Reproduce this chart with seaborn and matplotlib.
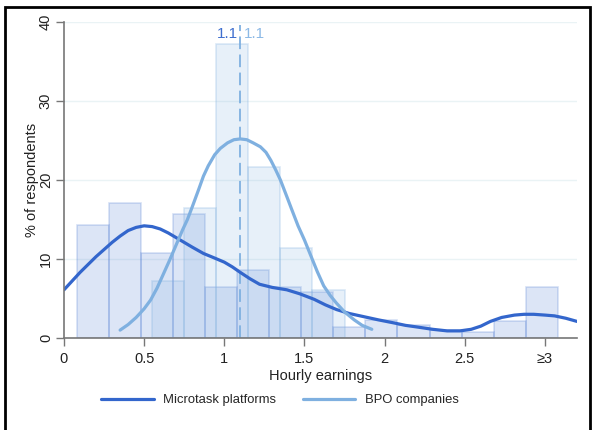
import numpy as np
import pandas as pd
import matplotlib
matplotlib.use("Agg")
import matplotlib.pyplot as plt
import matplotlib.patches as mpatches
import seaborn as sns

# ---------------- data ----------------
micro_bin_left = [0.08, 0.28, 0.48, 0.68, 0.88, 1.08, 1.28, 1.48, 1.68, 1.88,
                  2.08, 2.28, 2.48, 2.68, 2.88]
micro_pct = [14.3, 17.1, 10.7, 15.7, 6.4, 8.6, 6.4, 5.8, 1.4, 2.3,
             1.6, 1.0, 0.8, 2.2, 6.4]
bpo_bin_left = [0.55, 0.75, 0.95, 1.15, 1.35, 1.55]
bpo_pct = [7.2, 16.5, 37.2, 21.7, 11.4, 6.1]
bin_width = 0.2

micro_kde_x = [0.0, 0.05, 0.10, 0.15, 0.20, 0.25, 0.30, 0.35, 0.40, 0.45, 0.50,
               0.55, 0.60, 0.65, 0.70, 0.75, 0.80, 0.87, 0.93, 1.0, 1.05, 1.10,
               1.16, 1.22, 1.30, 1.39, 1.47, 1.56, 1.63, 1.70, 1.78, 1.87, 1.96,
               2.06, 2.13, 2.20, 2.30, 2.39, 2.47, 2.54, 2.60, 2.66, 2.73, 2.81,
               2.87, 2.93, 3.0, 3.06, 3.13, 3.2]
micro_kde_y = [6.1, 7.2, 8.3, 9.3, 10.3, 11.2, 12.1, 12.9, 13.6, 14.0, 14.2,
               14.1, 13.8, 13.3, 12.7, 12.1, 11.5, 10.7, 10.2, 9.6, 9.0, 8.3,
               7.5, 6.8, 6.4, 6.1, 5.6, 4.9, 4.2, 3.6, 3.1, 2.7, 2.3,
               1.9, 1.6, 1.4, 1.1, 0.9, 0.9, 1.1, 1.5, 2.1, 2.6, 2.9,
               3.0, 3.0, 2.9, 2.8, 2.5, 2.1]
bpo_kde_x = [0.35, 0.40, 0.45, 0.50, 0.54, 0.58, 0.62, 0.66, 0.70, 0.74, 0.77,
             0.80, 0.84, 0.87, 0.90, 0.94, 0.975, 1.02, 1.06, 1.10, 1.14, 1.18,
             1.225, 1.26, 1.29, 1.32, 1.35, 1.39, 1.42, 1.46, 1.50, 1.54, 1.58,
             1.62, 1.66, 1.70, 1.75, 1.81, 1.86, 1.92]
bpo_kde_y = [1.0, 1.7, 2.6, 3.7, 4.8, 6.3, 8.1, 9.9, 11.8, 13.7, 15.0,
             16.6, 18.8, 20.5, 21.8, 23.2, 24.0, 24.7, 25.1, 25.2, 25.1, 24.7,
             24.2, 23.5, 22.5, 21.3, 20.0, 17.9, 16.3, 14.2, 12.4, 10.4, 8.4,
             6.6, 5.4, 4.4, 3.3, 2.3, 1.6, 1.1]

median_micro = 1.1
median_bpo = 1.1

x_ticks = [0, 0.5, 1, 1.5, 2, 2.5, 3]
x_tick_labels = ["0", "0.5", "1", "1.5", "2", "2.5", "\u22653"]
y_ticks = [0, 10, 20, 30, 40]
series_names = ["Microtask platforms", "BPO companies"]

# ---------------- style ----------------
sns.set_theme(style="white")
plt.rcParams['font.family'] = ['Liberation Sans', 'DejaVu Sans']

dark = "#3366cc"
light = "#7fb0e0"

fig = plt.figure(figsize=(5.92, 4.30), dpi=100)
ax = fig.add_axes([64/592, 1-338/430, (577-64)/592, (338-22)/430])

def edges(lefts):
    return list(lefts) + [lefts[-1] + bin_width]

micro_df = pd.DataFrame({"x": np.array(micro_bin_left) + bin_width/2, "w": micro_pct})
bpo_df = pd.DataFrame({"x": np.array(bpo_bin_left) + bin_width/2, "w": bpo_pct})

sns.histplot(data=micro_df, x="x", weights="w", bins=edges(micro_bin_left),
             stat="count", color=dark, alpha=0.17,
             edgecolor=(0.2, 0.4, 0.8, 0.2), linewidth=1.2, ax=ax)
sns.histplot(data=bpo_df, x="x", weights="w", bins=edges(bpo_bin_left),
             stat="count", color=light, alpha=0.18,
             edgecolor=(0.5, 0.69, 0.88, 0.28), linewidth=1.2, ax=ax)

# median lines and labels
ax.axvline(median_micro, ymin=0, ymax=39.6/40, color=light, lw=1.3, dashes=(7, 3))
ax.text(median_micro - 0.015, 38.5, f"{median_micro:.1f}", color="#3f6fcf",
        ha="right", va="center", fontsize=11)
ax.text(median_bpo + 0.02, 38.5, f"{median_bpo:.1f}", color="#8cb9e6",
        ha="left", va="center", fontsize=11)

sns.lineplot(x=micro_kde_x, y=micro_kde_y, color=dark, lw=2.3, ax=ax,
             label=series_names[0], sort=False)
sns.lineplot(x=bpo_kde_x, y=bpo_kde_y, color=light, lw=2.3, ax=ax,
             label=series_names[1], sort=False)

ax.set_xlim(0, 3.2)
ax.set_ylim(0, 40)
ax.set_xticks(x_ticks)
ax.set_xticklabels(x_tick_labels)
ax.set_yticks(y_ticks)
ax.set_yticklabels([str(v) for v in y_ticks], rotation=90, va="center")
ax.tick_params(axis="both", which="both", direction="out", length=6, width=1,
               color="#777777", labelsize=10.5, labelcolor="#222222", pad=4,
               bottom=True, left=True)
ax.tick_params(axis="y", pad=2)
ax.yaxis.grid(True, color="#eaf3f5", lw=1)
ax.xaxis.grid(False)
ax.set_axisbelow(True)
for s in ["top", "right"]:
    ax.spines[s].set_visible(False)
for s in ["left", "bottom"]:
    ax.spines[s].set_color("#777777")
    ax.spines[s].set_linewidth(1.2)

ax.set_xlabel("Hourly earnings", fontsize=10.5, color="#222222", labelpad=2)
ax.set_ylabel("% of respondents", fontsize=10.5, color="#222222", labelpad=0)

handles, labels = ax.get_legend_handles_labels()
ax.legend(handles, labels, loc="center", bbox_to_anchor=(280/592, 1-400/430),
          bbox_transform=fig.transFigure, ncol=2, frameon=False, fontsize=9.4,
          handlelength=4.0, handletextpad=0.7, columnspacing=2.1)

# outer frame
fig.patches.append(mpatches.Rectangle((5/592, -0.05), (590-5)/592, 0.05 + (430-7)/430,
                                      transform=fig.transFigure, fill=False,
                                      edgecolor="black", lw=2, clip_on=False))

fig.savefig("out.png", dpi=100)
